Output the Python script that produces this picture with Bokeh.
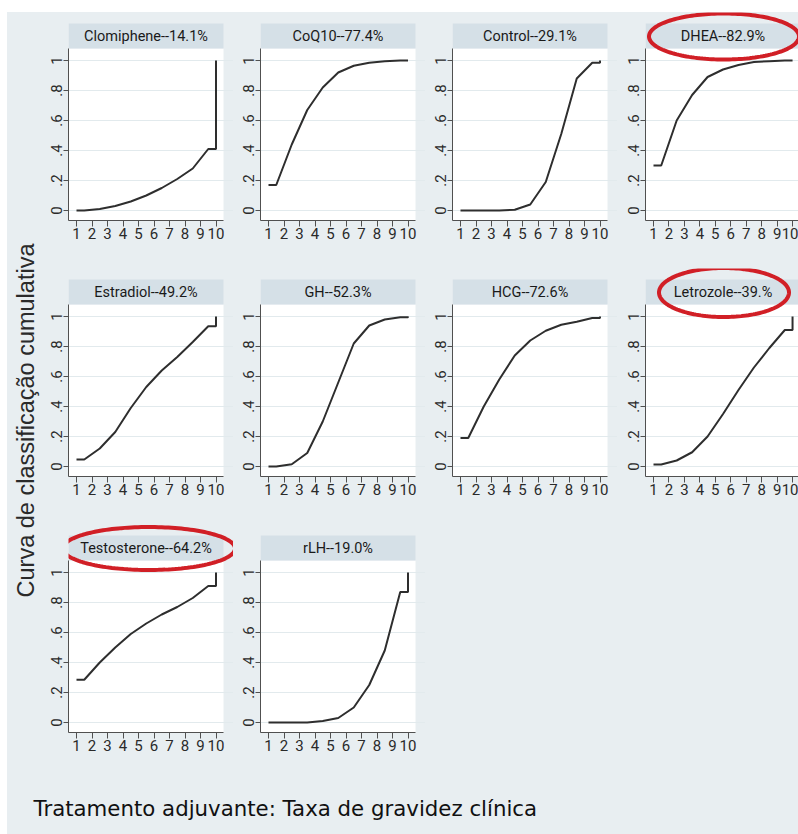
import numpy as np
from bokeh.plotting import figure
from bokeh.models import (BoxAnnotation, Label, PolyAnnotation, FixedTicker,
                          Range1d, Spacer)
from bokeh.layouts import row, column
from bokeh.embed import file_html
from bokeh.resources import INLINE

# ---------------- data ----------------
treatments = ["Clomiphene", "CoQ10", "Control", "DHEA", "Estradiol", "GH",
              "HCG", "Letrozole", "Testosterone", "rLH"]
sucra_labels = ["14.1%", "77.4%", "29.1%", "82.9%", "49.2%", "52.3%",
                "72.6%", "39.%", "64.2%", "19.0%"]
ranks = [1, 2, 3, 4, 5, 6, 7, 8, 9, 10]

cum_clomiphene = [0.00, 0.01, 0.03, 0.06, 0.10, 0.15, 0.21, 0.28, 0.41, 1.00]
cum_coq10 = [0.17, 0.44, 0.67, 0.82, 0.92, 0.965, 0.985, 0.995, 1.00, 1.00]
cum_control = [0.00, 0.00, 0.00, 0.005, 0.04, 0.19, 0.51, 0.88, 0.985, 1.00]
cum_dhea = [0.30, 0.60, 0.77, 0.89, 0.94, 0.97, 0.99, 0.995, 1.00, 1.00]
cum_estradiol = [0.047, 0.12, 0.23, 0.39, 0.53, 0.64, 0.73, 0.83, 0.935, 1.00]
cum_gh = [0.00, 0.015, 0.09, 0.30, 0.56, 0.82, 0.94, 0.98, 0.995, 1.00]
cum_hcg = [0.19, 0.40, 0.58, 0.74, 0.84, 0.905, 0.945, 0.965, 0.99, 1.00]
cum_letrozole = [0.013, 0.04, 0.095, 0.20, 0.35, 0.51, 0.66, 0.79, 0.91, 1.00]
cum_testosterone = [0.285, 0.40, 0.50, 0.59, 0.66, 0.72, 0.77, 0.83, 0.91, 1.00]
cum_rlh = [0.00, 0.00, 0.00, 0.01, 0.03, 0.10, 0.25, 0.48, 0.87, 1.00]

cumulative = [cum_clomiphene, cum_coq10, cum_control, cum_dhea, cum_estradiol,
              cum_gh, cum_hcg, cum_letrozole, cum_testosterone, cum_rlh]

highlighted = ["DHEA", "Letrozole", "Testosterone"]
y_ticks = [0, 0.2, 0.4, 0.6, 0.8, 1.0]
y_tick_labels = ["0", ".2", ".4", ".6", ".8", "1"]

y_axis_title = "Curva de classificação cumulativa"
bottom_title = "Tratamento adjuvante: Taxa de gravidez clínica"

# ---------------- style / layout ----------------
BG = "#e8eef1"
STRIP = "#d5e0e7"
AXIS = "#505050"
LINE = "#2e2e2e"
RED = "#d11f26"
PANEL_FONT = "Roboto"

ROW_H = 256
FRAME_H = 208
PX_Y = 150.0                     # pixels per unit on y
Y0 = 1 - 160 / PX_Y              # frame bottom
Y1 = 1 + 48 / PX_Y               # frame top
PLOT_TOP = 1 + 12 / PX_Y         # top of white plot region
STRIP_TOP = 1 + 37 / PX_Y        # top of title strip
STRIP_MID = (PLOT_TOP + STRIP_TOP) / 2
PLOT_W = 155                     # width of the white plot region in px

# (figure width, left border, px per x unit)
col_specs = [(193, 28, 15.5),
             (192, 27, 15.5),
             (192, 27, 15.5),
             (181, 28, 15.45)]

ellipse_px = {"DHEA": (150, 46, 1), "Letrozole": (130, 49, 1),
              "Testosterone": (172, 43, 3)}


def make_panel(idx):
    name = treatments[idx]
    cum = cumulative[idx]
    col = idx % 4
    fw, lb, ppu = col_specs[col]
    frw = fw - lb
    x0 = 1 - 8 / ppu
    x1 = x0 + frw / ppu
    xp = x0 + PLOT_W / ppu
    p = figure(width=fw, height=ROW_H, x_range=Range1d(x0, x1),
               y_range=Range1d(Y0, Y1), output_backend="svg",
               toolbar_location=None, min_border_left=lb, min_border_right=0,
               min_border_top=0, min_border_bottom=ROW_H - FRAME_H,
               background_fill_color=BG, border_fill_color=BG,
               outline_line_color=None)
    p.add_layout(BoxAnnotation(left=x0, right=xp, bottom=Y0, top=PLOT_TOP,
                               fill_color="white", fill_alpha=1,
                               line_color=None, level="image"))
    p.add_layout(BoxAnnotation(left=x0, right=xp, bottom=PLOT_TOP,
                               top=STRIP_TOP, fill_color=STRIP, fill_alpha=1,
                               line_color=None, level="image"))
    p.xgrid.visible = False
    p.ygrid.ticker = FixedTicker(ticks=y_ticks)
    p.ygrid.grid_line_color = "#e2eaed"
    p.ygrid.bounds = (x0, xp)

    # curve: flat start, points at rank midpoints, flat end, jump at last rank
    xs = [ranks[0]] + [r + 0.5 for r in ranks[:-1]] + [ranks[-1], ranks[-1]]
    ys = [cum[0]] + cum[:-1] + [cum[-2], cum[-1]]
    p.line(xs, ys, line_color=LINE, line_width=2)

    for ax in (p.xaxis[0], p.yaxis[0]):
        ax.axis_line_color = AXIS
        ax.major_tick_line_color = AXIS
        ax.minor_tick_line_color = None
        ax.major_tick_in = 0
        ax.major_label_text_font = PANEL_FONT
        ax.major_label_text_font_size = "15px"
        ax.major_label_text_color = "#2a2a2a"
        ax.axis_label = None
    p.xaxis.ticker = FixedTicker(ticks=ranks)
    p.xaxis.major_tick_out = 6
    p.xaxis.major_label_standoff = 1
    p.xaxis.bounds = (x0, xp)
    p.yaxis.ticker = FixedTicker(ticks=y_ticks)
    p.yaxis.major_label_overrides = {float(t): l for t, l in zip(y_ticks, y_tick_labels)}
    p.yaxis.major_label_orientation = "vertical"
    p.yaxis.major_tick_out = 5
    p.yaxis.major_label_standoff = 2
    p.yaxis.bounds = (Y0, PLOT_TOP)

    xmid = (x0 + xp) / 2
    p.add_layout(Label(x=xmid, y=STRIP_MID, text=f"{name}--{sucra_labels[idx]}",
                       text_align="center", text_baseline="middle",
                       text_font=PANEL_FONT, text_font_size="14.5px",
                       text_color="#1a1a1a"))
    if name in highlighted:
        w, h, dx = ellipse_px[name]
        t = np.linspace(0, 2 * np.pi, 160)
        xc = xmid + dx / ppu
        yc = 1 + 24 / PX_Y
        ex = xc + (w / 2) / ppu * np.cos(t)
        ey = yc + (h / 2) / PX_Y * np.sin(t)
        p.add_layout(PolyAnnotation(xs=list(ex), ys=list(ey), fill_color=None,
                                    fill_alpha=0, line_color=RED,
                                    line_alpha=1.0, line_width=4,
                                    level="overlay"))
    return p


panels = [make_panel(i) for i in range(len(treatments))]


def blank(width, height, xr, yr):
    b = figure(width=width, height=height, x_range=Range1d(*xr),
               y_range=Range1d(*yr), output_backend="svg",
               toolbar_location=None, min_border=0,
               background_fill_color=BG, border_fill_color=BG,
               outline_line_color=None)
    b.axis.visible = False
    b.grid.visible = False
    return b


filler = blank(373, ROW_H, (0, 1), (0, 1))

ylab = blank(33, 3 * ROW_H, (0, 33), (0, 3 * ROW_H))
ylab.add_layout(Label(x=18.5, y=3 * ROW_H - 408, text=y_axis_title,
                      angle=np.pi / 2, text_align="center",
                      text_baseline="middle", text_font="Liberation Sans",
                      text_font_size="23.5px", text_color="#2a2a2a"))

bottom = blank(791, 54, (0, 791), (0, 54))
bottom.add_layout(Label(x=26, y=26, text=bottom_title, text_align="left",
                        text_baseline="middle", text_font="DejaVu Sans",
                        text_font_size="21.3px", text_color="#111111"))

bgs = {"background-color": BG}
grid = column(row(*panels[0:4], styles=bgs), row(*panels[4:8], styles=bgs),
              row(panels[8], panels[9], filler, styles=bgs), styles=bgs)
main = column(row(ylab, grid, styles=bgs), bottom, styles=bgs)
layout = column(Spacer(width=798, height=12),
                row(Spacer(width=7, height=3 * ROW_H + 54), main))

open("out.html", "w").write(file_html(layout, INLINE))
